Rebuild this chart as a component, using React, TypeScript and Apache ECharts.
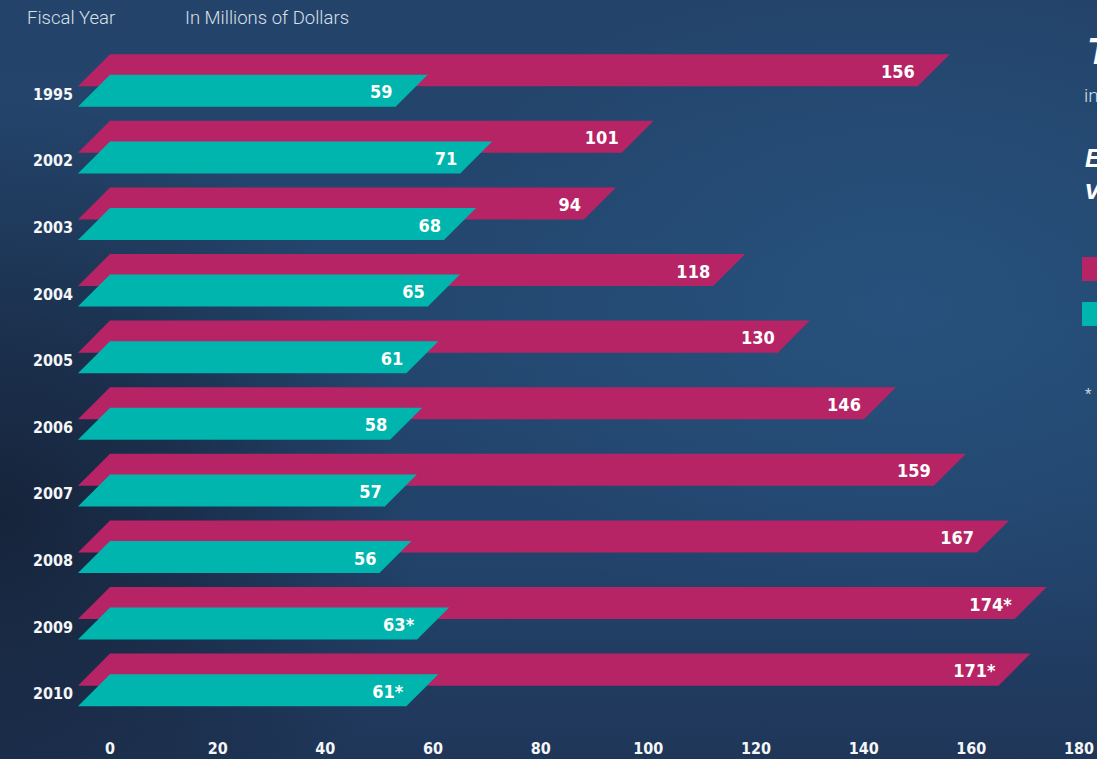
import React, { useEffect, useRef } from "react";
import * as echarts from "echarts";

// ---- data ----
const years = ["1995", "2002", "2003", "2004", "2005", "2006", "2007", "2008", "2009", "2010"];
const magentaValues = [156, 101, 94, 118, 130, 146, 159, 167, 174, 171];
const tealValues = [59, 71, 68, 65, 61, 58, 57, 56, 63, 61];
const estimated = [false, false, false, false, false, false, false, false, true, true];
const axisMin = 0;
const axisMax = 180;
const axisStep = 20;
const headerYear = "Fiscal Year";
const headerUnit = "In Millions of Dollars";

const MAGENTA = "#b62465";
const TEAL = "#00b5ae";
const NARROW = '"Liberation Sans Narrow", "DejaVu Sans Condensed", "Arial Narrow", sans-serif';

function makeRender(values: number[], color: string, topFrac: number) {
  return (params: any, api: any) => {
    const i = api.value(0);
    const v = api.value(1);
    const p0 = api.coord([axisMin, i]);
    const p1 = api.coord([v, i]);
    const band = api.size([0, 1])[1];
    const top = p0[1] + topFrac * band;
    const h = 0.481 * band;
    const bottom = top + h;
    const shear = h;
    const txt = String(values[params.dataIndex]) + (estimated[params.dataIndex] ? "*" : "");
    return {
      type: "group",
      children: [
        {
          type: "polygon",
          shape: {
            points: [
              [p0[0], top],
              [p1[0], top],
              [p1[0] - shear, bottom],
              [p0[0] - shear, bottom],
            ],
          },
          style: { fill: color },
        },
        {
          type: "text",
          style: {
            text: txt,
            x: p1[0] - shear - 3,
            y: (top + bottom) / 2 + 1,
            align: "right",
            verticalAlign: "middle",
            fill: "#ffffff",
            fontSize: 18,
            fontWeight: "bold",
            fontFamily: NARROW,
          },
        },
      ],
    };
  };
}

export default function App() {
  const ref = useRef<HTMLDivElement>(null);

  useEffect(() => {
    if (!ref.current) return;
    const chart = echarts.init(ref.current, undefined, { renderer: "svg" });
    const option: any = {
      animation: false,
      backgroundColor: "transparent",
      grid: { left: 110, right: 18, top: 61, bottom: 32, containLabel: false },
      xAxis: {
        type: "value",
        min: axisMin,
        max: axisMax,
        interval: axisStep,
        axisLine: { show: false },
        axisTick: { show: false },
        splitLine: { show: false },
        axisLabel: {
          color: "#f4f6f8",
          fontSize: 16,
          fontWeight: "bold",
          fontFamily: NARROW,
          margin: 13,
        },
      },
      yAxis: {
        type: "category",
        data: years,
        inverse: true,
        axisLine: { show: false },
        axisTick: { show: false },
        splitLine: { show: false },
        axisLabel: {
          color: "#f4f6f8",
          fontSize: 16,
          fontWeight: "bold",
          fontFamily: NARROW,
          margin: 37,
        },
      },
      graphic: [
        {
          type: "text",
          left: 27,
          top: 8,
          style: { text: headerYear, fill: "#d9e0e8", fontSize: 18.5, fontFamily: "Roboto, sans-serif", fontWeight: 300 },
        },
        {
          type: "text",
          left: 185,
          top: 8,
          style: { text: headerUnit, fill: "#d9e0e8", fontSize: 18.5, fontFamily: "Roboto, sans-serif", fontWeight: 300 },
        },
        {
          type: "text",
          x: 1087,
          y: 33,
          style: { text: "T", fill: "#ffffff", fontSize: 37, fontWeight: "bold", fontStyle: "italic", fontFamily: '"Liberation Sans", sans-serif' },
        },
        {
          type: "text",
          x: 1084,
          y: 86,
          style: { text: "in", fill: "#d9e0e8", fontSize: 19, fontFamily: "Roboto, sans-serif", fontWeight: 300 },
        },
        {
          type: "text",
          x: 1085,
          y: 145,
          style: { text: "E", fill: "#ffffff", fontSize: 25, fontWeight: "bold", fontStyle: "italic", fontFamily: '"Liberation Sans", sans-serif' },
        },
        {
          type: "text",
          x: 1085,
          y: 176,
          style: { text: "v", fill: "#ffffff", fontSize: 27, fontWeight: "bold", fontStyle: "italic", fontFamily: '"Liberation Sans", sans-serif' },
        },
        { type: "rect", shape: { x: 1082, y: 257, width: 20, height: 24 }, style: { fill: MAGENTA } },
        { type: "rect", shape: { x: 1082, y: 302, width: 20, height: 24 }, style: { fill: TEAL } },
        {
          type: "text",
          x: 1085,
          y: 386,
          style: { text: "*", fill: "#c9d2dc", fontSize: 15, fontFamily: "Roboto, sans-serif" },
        },
      ],
      series: [
        {
          type: "custom",
          name: "magenta",
          clip: false,
          renderItem: makeRender(magentaValues, MAGENTA, -0.602),
          encode: { x: 1, y: 0 },
          data: magentaValues.map((v, i) => [i, v]),
        },
        {
          type: "custom",
          name: "teal",
          clip: false,
          renderItem: makeRender(tealValues, TEAL, -0.293),
          encode: { x: 1, y: 0 },
          data: tealValues.map((v, i) => [i, v]),
        },
      ],
    };
    chart.setOption(option);
    return () => chart.dispose();
  }, []);

  return (
    <div
      style={{
        position: "fixed",
        left: 0,
        top: 0,
        width: 1097,
        height: 759,
        overflow: "hidden",
        background:
          "radial-gradient(ellipse 38% 55% at 0% 68%, rgba(22,34,56,0.95) 0%, rgba(22,34,56,0.6) 45%, rgba(22,34,56,0) 100%)," +
          "radial-gradient(ellipse 45% 45% at 82% 40%, rgba(40,86,130,0.7) 0%, rgba(40,86,130,0) 100%)," +
          "linear-gradient(180deg, #24436a 0%, #23476f 45%, #22426a 75%, #1f3658 100%)",
      }}
    >
      <div ref={ref} style={{ width: 1097, height: 759 }} />
    </div>
  );
}
